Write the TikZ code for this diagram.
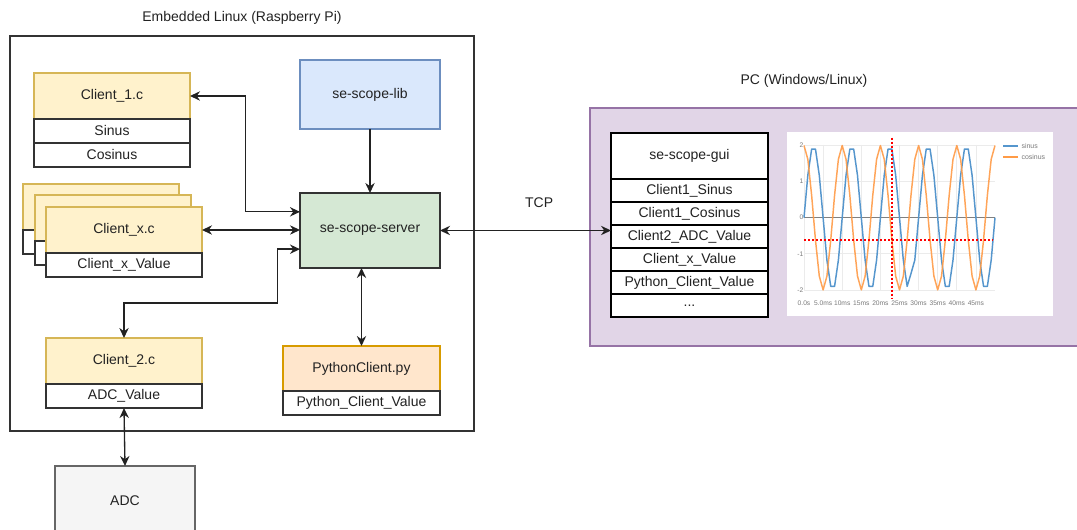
\documentclass[tikz,border=0pt]{standalone}
\usepackage{fontspec}
\setmainfont{Liberation Sans}
\usetikzlibrary{positioning,arrows.meta}
\definecolor{txt}{HTML}{222222}
\definecolor{ylwfill}{HTML}{FFF2CC}
\definecolor{ylwline}{HTML}{D6B656}
\definecolor{bluefill}{HTML}{DAE8FC}
\definecolor{blueline}{HTML}{6C8EBF}
\definecolor{grnfill}{HTML}{D5E8D4}
\definecolor{orgfill}{HTML}{FFE6CC}
\definecolor{orgline}{HTML}{D79B00}
\definecolor{gryfill}{HTML}{F5F5F5}
\definecolor{gryline}{HTML}{666666}
\definecolor{pcfill}{HTML}{E1D5E7}
\definecolor{pcline}{HTML}{9673A6}
\definecolor{rowline}{HTML}{333333}
\definecolor{sinblue}{RGB}{85,150,205}
\definecolor{cosorange}{RGB}{255,155,70}
\definecolor{gridgray}{HTML}{EBEBEB}
\definecolor{ticktxt}{HTML}{7A7A7A}
\tikzset{
  sz/.style 2 args={minimum width=#1*0.75pt, minimum height=#2*0.75pt},
  base/.style={draw, inner sep=0pt, outer sep=0pt, line width=0.8pt, text=txt},
  chead/.style={base, fill=ylwfill, draw=ylwline, sz={156}{46}},
  crow/.style={base, fill=white, draw=rowline, line width=1pt, sz={156}{24}},
  libbox/.style={base, fill=bluefill, draw=blueline, sz={140}{69}},
  srvbox/.style={base, fill=grnfill, draw=rowline, sz={140}{75}},
  pyhead/.style={base, fill=orgfill, draw=orgline, sz={157}{45}},
  adcbox/.style={base, fill=gryfill, draw=gryline, sz={140}{70}},
  guihead/.style={base, fill=white, draw=black, line width=1.2pt, sz={157}{46}},
  guirow/.style={guihead, sz={157}{23}},
  frame/.style={draw=rowline, line width=1pt},
  link/.style={draw=txt, line width=1pt},
  tick/.style={text=ticktxt, font=\fontsize{5}{6}\selectfont, inner sep=1pt},
  legtxt/.style={text=ticktxt, font=\fontsize{5.2}{6}\selectfont, inner sep=1pt},
  reddot/.style={red, line width=1.5pt, dash pattern=on 1.5pt off 1.5pt}
}
\begin{document}
\begin{tikzpicture}[x=0.75pt, y=-0.75pt, >={Stealth[length=7.5pt,width=7pt]},
    font=\fontsize{10.5}{12.6}\selectfont]
  \useasboundingbox (0,0) rectangle (1077,530);
  \clip (0,0) rectangle (1077,530);

  % Embedded Linux frame
  \draw[frame] (10,36) rectangle (474,431);
  \node[text=txt] (embtitle) at (242,18) {Embedded Linux (Raspberry Pi)};

  % Client_1.c
  \node[chead, anchor=north west] (c1) at (34,73) {Client\_1.c};
  \node[crow, below=0pt of c1] (c1sin) {Sinus};
  \node[crow, below=0pt of c1sin] (c1cos) {Cosinus};

  % stacked Client_x.c
  \foreach \k/\px/\py in {b/23/184, m/35/195} {
    \node[chead, anchor=north west] (cx\k) at (\px,\py) {};
    \node[crow, below=0pt of cx\k] (cx\k-v) {};
  }
  \node[chead, anchor=north west] (cx) at (46,207) {Client\_x.c};
  \node[crow, below=0pt of cx] (cxval) {Client\_x\_Value};

  % Client_2.c
  \node[chead, anchor=north west] (c2) at (46,338) {Client\_2.c};
  \node[crow, below=0pt of c2] (c2val) {ADC\_Value};

  % lib, server, python
  \node[libbox, anchor=north west] (lib) at (300,60) {se-scope-lib};
  \node[srvbox, anchor=north west] (srv) at (300,193) {se-scope-server};
  \node[pyhead, anchor=north west] (py) at (283,346) {PythonClient.py};
  \node[crow, sz={157}{24}, below=0pt of py] (pyval) {Python\_Client\_Value};

  % ADC
  \node[adcbox, anchor=north west] (adc) at (55,466) {ADC};

  % PC frame
  \draw[fill=pcfill, draw=pcline, line width=1pt] (590,108) rectangle (1082,346);
  \node[text=txt] (pctitle) at (804,81) {PC (Windows/Linux)};

  % se-scope-gui table
  \node[guihead, anchor=north west] (gui0) at (611,133) {se-scope-gui};
  \foreach \lbl [count=\i from 1, remember=\i as \prev (initially 0)] in
      {Client1\_Sinus, Client1\_Cosinus, Client2\_ADC\_Value,
       Client\_x\_Value, Python\_Client\_Value}
    \node[guirow, below=0pt of gui\prev] (gui\i) {\lbl};
  \node[guirow, below=0pt of gui5] (gui6) {...};

  % chart
  \fill[white] (787,132) rectangle (1053,316);
  \foreach \v in {-2,-1,0,1,2} {
    \draw[gridgray, line width=0.5pt] (804,{217.7-36.1*\v}) -- (995,{217.7-36.1*\v});
    \node[tick, anchor=east] (yl\v) at (805,{217.7-36.1*\v}) {\v};
  }
  \foreach \ms in {0,5,10,15,20,25,30,35,40,45}
    \draw[gridgray, line width=0.5pt] ({804+3.82*\ms},145) -- ({804+3.82*\ms},291);
  \foreach \ms/\lbl in {0/0.0s, 5/5.0ms, 10/10ms, 15/15ms, 20/20ms,
                        25/25ms, 30/30ms, 35/35ms, 40/40ms, 45/45ms}
    \node[tick] (xl\ms) at ({804+3.82*\ms},303) {\lbl};
  \draw[gray, line width=0.6pt] (804,217.7) -- (995,217.7);
  \draw[sinblue, line width=1.1pt, line join=round]
    plot[domain=0:50, samples=51]
      ({804+3.82*\x},{217.7-36.1*(\x==28 ? -1.55 : 2*sin(36*\x))});
  \draw[cosorange, line width=1.1pt, line join=round, opacity=0.9]
    plot[domain=0:50, samples=51] ({804+3.82*\x},{217.7-72.2*cos(36*\x)});
  \draw[reddot] (891.7,137.7) -- (891.7,298);
  \draw[reddot] (804,240.3) -- (993,240.3);
  % legend
  \draw[sinblue, line width=1.4pt] (1003,145.7) -- (1018,145.7);
  \node[legtxt, anchor=west] (lgsin) at (1020,145.7) {sinus};
  \draw[cosorange, line width=1.4pt] (1003,157.3) -- (1018,157.3);
  \node[legtxt, anchor=west] (lgcos) at (1020,157.3) {cosinus};

  % connectors
  \draw[link, ->] (lib) -- (srv);
  \draw[link, <->] (c1.east) -- ++(55.5,0) |- ([yshift=14pt]srv.west);
  \draw[link, <->] (cx.east) -- (cx.east -| srv.west);
  \draw[link, <->] ([yshift=-14pt]srv.west) -- ++(-22.3,0) -- ++(0,54) -| (c2.north);
  \draw[link, <->] (py.north |- srv.south) -- (py.north);
  \draw[link, <->] (adc.north) -- (c2val.south);
  \draw[link, <->] (srv.east) -- node[pos=0.58, above=13pt, text=txt] (tcp) {TCP}
    (srv.east -| gui3.west);
\end{tikzpicture}
\end{document}
